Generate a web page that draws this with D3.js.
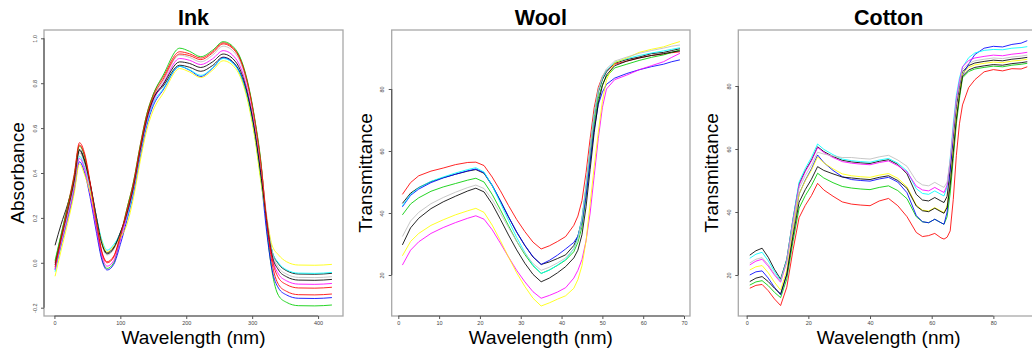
<!DOCTYPE html>
<html><head><meta charset="utf-8">
<script src="https://cdn.jsdelivr.net/npm/d3@7"></script>
<style>body{margin:0;background:#fff;} svg{display:block;}</style>
</head><body>
<svg id="chart" width="1032" height="350"></svg>
<script>
// ---------------- Ink (absorbance) ----------------
const inkWavelength = [1,10,20,30,38,46,55,64,72,80,90,100,110,120,130,140,150,165,190,205,222,240,256,275,292,304,314,322,330,340,352,370,395,421];
const inkBlack1 = [0.078,0.17,0.26,0.37,0.505,0.455,0.343,0.20,0.09,0.045,0.07,0.135,0.22,0.34,0.50,0.64,0.73,0.787,0.88,0.871,0.853,0.879,0.916,0.881,0.751,0.571,0.361,0.193,0.054,-0.005,-0.035,-0.05,-0.051,-0.047];
const inkRed1 = [0.00,0.121,0.252,0.394,0.535,0.485,0.343,0.179,0.045,0.0,0.025,0.122,0.24,0.36,0.52,0.66,0.75,0.828,0.94,0.931,0.912,0.941,0.98,0.945,0.815,0.635,0.425,0.179,0.001,-0.097,-0.127,-0.142,-0.143,-0.139];
const inkGreen = [0.01,0.125,0.25,0.385,0.52,0.47,0.324,0.157,0.02,-0.025,0.0,0.11,0.24,0.36,0.52,0.66,0.75,0.836,0.956,0.942,0.918,0.947,0.985,0.95,0.82,0.64,0.43,0.157,-0.035,-0.146,-0.176,-0.191,-0.192,-0.188];
const inkBlue = [-0.03,0.078,0.195,0.322,0.45,0.40,0.279,0.131,0.013,-0.032,-0.007,0.082,0.19,0.31,0.47,0.61,0.70,0.77,0.875,0.858,0.83,0.867,0.913,0.878,0.748,0.568,0.358,0.138,-0.028,-0.113,-0.143,-0.158,-0.159,-0.155];
const inkCyan = [-0.04,0.076,0.203,0.339,0.475,0.425,0.329,0.20,0.101,0.056,0.081,0.131,0.20,0.32,0.48,0.62,0.71,0.775,0.875,0.86,0.835,0.868,0.91,0.875,0.745,0.565,0.355,0.192,0.056,-0.001,-0.031,-0.046,-0.047,-0.043];
const inkMagenta = [-0.03,0.081,0.203,0.334,0.465,0.415,0.295,0.148,0.03,-0.015,0.01,0.10,0.21,0.33,0.49,0.63,0.72,0.798,0.91,0.902,0.883,0.909,0.945,0.91,0.78,0.60,0.39,0.185,0.028,-0.05,-0.08,-0.095,-0.096,-0.092];
const inkYellow = [-0.06,0.053,0.175,0.308,0.44,0.39,0.305,0.184,0.093,0.048,0.073,0.112,0.17,0.29,0.45,0.59,0.68,0.755,0.865,0.85,0.825,0.858,0.90,0.865,0.735,0.555,0.345,0.205,0.08,0.035,0.005,-0.01,-0.011,-0.007];
const inkGray = [-0.02,0.095,0.22,0.355,0.49,0.44,0.33,0.19,0.08,0.035,0.06,0.13,0.22,0.34,0.50,0.64,0.73,0.81,0.925,0.915,0.895,0.925,0.965,0.93,0.80,0.62,0.41,0.21,0.055,-0.02,-0.05,-0.065,-0.066,-0.062];
const inkBlack2 = [-0.01,0.105,0.23,0.365,0.50,0.45,0.338,0.197,0.085,0.04,0.065,0.133,0.22,0.34,0.50,0.64,0.73,0.795,0.895,0.888,0.87,0.895,0.93,0.895,0.765,0.585,0.375,0.187,0.037,-0.032,-0.062,-0.077,-0.078,-0.074];
const inkRed2 = [-0.02,0.104,0.238,0.381,0.525,0.475,0.339,0.18,0.05,0.005,0.03,0.12,0.23,0.35,0.51,0.65,0.74,0.818,0.93,0.923,0.905,0.935,0.975,0.94,0.81,0.63,0.42,0.192,0.022,-0.067,-0.097,-0.112,-0.113,-0.109];
const inkXTicks = [0,100,200,300,400];
const inkYTicks = [-0.2,0.0,0.2,0.4,0.6,0.8,1.0];

// ---------------- Wool (transmittance) ----------------
const woolWavelength = [1,3,5,8,11,14,17,19,21,23,25,27,29,31,33,35,37,39,41,43,44,45,46,47,48,49,50,51,53,56,59,62,65,67,69];
const woolBlack1 = [43.1,46.4,48.2,50.1,51.4,52.5,53.5,54.0,52.8,48.8,43.9,38.7,33.8,29.5,25.8,23.4,24.2,25.3,26.5,29.5,32.5,38,48,60,71,79,83,85.5,88.3,89.5,90.3,91.4,91.8,92.4,93.0];
const woolRed = [46.0,49.8,52.0,53.5,54.5,55.6,56.3,56.4,55.3,51.6,47.2,42.4,37.9,34.0,30.6,28.4,29.4,30.8,32.4,36.0,39,44,53,64,74,80.5,84,86,88,89,90,90.8,91.3,91.7,92.0];
const woolGreen = [39.4,42.9,44.9,47.0,48.4,49.5,50.6,51.2,50.0,46.0,41.1,35.9,30.9,26.6,23.0,20.5,21.6,23.1,24.8,27.5,30.5,35.5,45,57,68.5,77,81.5,84,86.8,88,89.2,90.2,91,91.8,92.6];
const woolBlue = [42.0,45.7,47.7,49.8,51.3,52.5,53.6,54.2,53.0,49.0,44.0,38.8,33.9,29.6,25.9,23.4,24.7,26.4,28.4,30.5,32.5,37,45.5,56.5,67,75,79,81.5,83.5,85,86.2,87.2,88,88.8,89.4];
const woolCyan = [42.3,46.0,48.1,50.2,51.6,52.9,54.0,54.6,53.2,48.8,43.3,37.6,32.1,27.3,23.2,20.5,21.6,23.2,25.0,28.5,32,38.5,49,61,72,79.5,83.5,86,88.6,89.8,90.8,91.6,92.3,92.8,93.3];
const woolMagenta = [23.2,28.0,30.7,33.4,35.3,36.9,38.3,39.1,38.0,34.6,30.3,25.8,21.5,17.8,14.6,12.5,13.4,14.5,15.9,19.0,21.5,25,31,40,52,64,74,80,83,84.5,86.2,87.5,88.8,90.2,91.5];
const woolYellow = [26.2,30.8,33.4,36.0,37.8,39.4,40.7,41.5,40.2,36.1,31.1,25.8,20.7,16.3,12.5,10.0,11.0,12.2,13.3,15.7,18.5,23,31,43,55,66,76,83,88.5,90,91.8,92.8,93.6,94.5,95.3];
const woolGray = [32.4,37.4,40.2,43.0,45.0,46.7,48.2,49.0,47.9,44.3,39.9,35.3,30.9,27.0,23.7,21.5,22.5,23.9,25.5,28.5,31.5,38,48.5,60.5,71.5,79.5,84,86.5,89,90.3,91.5,92.4,93.2,93.8,94.2];
const woolBlack2 = [29.7,35.2,38.3,41.4,43.6,45.4,47.1,48.0,46.8,42.9,38.0,32.9,28.1,23.8,20.2,17.8,19.0,20.7,22.7,25.5,28,33,42,54,66,75.5,81,84.5,87.5,89,90,90.8,91.4,91.9,92.3];
const woolXTicks = [0,10,20,30,40,50,60,70];
const woolYTicks = [20,40,60,80];

// ---------------- Cotton (transmittance) ----------------
const cottonWavelength = [1,3,5,7,9,11,13,15,17,19,21,23,25,28,31,34,37,40,43,46,49,52,55,57,59,61,63,64,65,66,67,68,69,70,72,74,77,80,83,86,89,91];
const cottonBlack1 = [26.3,27.7,28.5,25.6,21.8,18.7,25.0,37.6,48.9,53.1,56.5,60.7,59.2,57.6,56.4,55.9,55.6,55.4,56.1,56.6,55.1,52.1,45.6,43.8,43.5,44.6,43.5,43.0,45,53.5,64,73.5,79.5,84.5,86.5,87.3,87.8,88.2,88.0,88.5,88.8,89.1];
const cottonRed = [15.8,16.7,17.0,15.0,12.4,10.3,16.1,27.8,38.2,42.1,45.2,49.1,47.0,45.0,43.2,42.5,42.2,42.0,43.5,44.3,42.0,38.5,33.5,32.2,32.5,33.2,31.8,31.4,32,34,44,58,68,74,79.5,82,84.5,85.2,84.8,85.5,85.4,86.1];
const cottonGreen = [16.8,17.8,18.2,16.6,14.5,12.8,18.7,30.6,41.2,45.2,48.4,52.3,50.8,49.3,48.1,47.6,47.3,47.1,47.8,48.3,46.8,44.2,38.5,36.9,36.6,37.7,36.6,36.1,38.5,46,57,68,76,82.6,84.6,85.4,85.9,86.3,86.1,86.6,86.9,87.2];
const cottonBlue = [20.0,21.0,21.3,19.0,16.1,13.7,20.4,33.7,45.7,50.1,53.7,58.1,55.7,53.2,51.2,50.3,50.0,49.8,50.5,51.0,49.5,46.1,38.9,36.9,36.6,37.7,36.6,36.1,40,52,65,75,80.5,83.5,87,90,92,92.6,92.4,93.2,93.6,94.4];
const cottonCyan = [25.3,26.6,27.2,24.5,21.1,18.3,24.8,37.8,49.5,53.8,57.3,61.6,59.9,58.2,56.8,56.3,56.0,55.8,56.5,57.0,55.5,53.0,47.4,45.9,45.6,46.7,45.6,45.1,48,57,68,77,82.5,86,89,90.5,91.3,91.6,91.5,92.0,92.2,92.5];
const cottonMagenta = [23.2,24.4,25.0,22.8,20.0,17.7,24.1,37.0,48.5,52.8,56.2,60.5,58.9,57.3,56.0,55.5,55.2,55.0,55.7,56.2,54.7,52.7,48.2,47.0,46.7,47.8,46.7,46.2,48.5,56,66.5,76,81.5,86.1,88.1,88.9,89.4,89.8,89.6,90.1,90.4,90.7];
const cottonYellow = [21.6,22.6,23.0,20.7,17.7,15.2,21.5,34.2,45.7,49.9,53.3,57.5,55.6,53.7,52.1,51.5,51.2,51.0,51.7,52.2,50.7,48.0,42.2,40.6,40.3,41.4,40.3,39.8,42,49.5,60,70.5,77.5,83.9,85.9,86.7,87.2,87.6,87.4,87.9,88.2,88.5];
const cottonGray = [23.8,25.0,25.5,23.3,20.4,18.0,24.2,36.5,47.5,51.6,54.9,59.0,58.4,57.8,57.3,57.3,57.0,56.8,57.5,58.0,56.5,54.5,49.9,48.6,48.3,49.4,48.3,47.8,49.5,56.5,66,75,80.5,85.2,87.2,88.0,88.5,88.9,88.7,89.2,89.5,89.8];
const cottonBlack2 = [17.9,19.0,19.5,17.9,15.8,14.0,20.1,32.2,43.1,47.1,50.4,54.4,53.2,52.1,51.1,50.8,50.5,50.3,51.0,51.5,50.0,47.5,41.9,40.4,40.1,41.2,40.1,39.6,41.5,48.5,59,69.5,77,83.1,85.1,85.9,86.4,86.8,86.6,87.1,87.4,87.7];
const cottonXTicks = [0,20,40,60,80];
const cottonYTicks = [20,40,60,80];

const rColors = ["black","red","#00CD00","blue","cyan","magenta","yellow","#BEBEBE","black","red"];

// ---------------- drawing ----------------
const svg = d3.select("#chart");
const FONT = "'Liberation Sans', Arial, Helvetica, sans-serif";
const TOP = 30, BOTTOM = 316;

const panels = [
  {title:"Ink", ylab:"Absorbance", xs:inkWavelength,
   series:[inkBlack1,inkRed1,inkGreen,inkBlue,inkCyan,inkMagenta,inkYellow,inkGray,inkBlack2,inkRed2],
   left:44, right:343, xdom:[-15.8,437.8], ydom:[-0.237,1.037],
   xticks:inkXTicks, yticks:inkYTicks, yfmt:d=>d.toFixed(1), curve:d3.curveMonotoneX},
  {title:"Wool", ylab:"Transmittance", xs:woolWavelength,
   series:[woolBlack1,woolRed,woolGreen,woolBlue,woolCyan,woolMagenta,woolYellow,woolGray,woolBlack2],
   left:391.7, right:690, xdom:[-1.62,71.47], ydom:[6.77,99.03],
   xticks:woolXTicks, yticks:woolYTicks, yfmt:d=>String(d), curve:d3.curveLinear},
  {title:"Cotton", ylab:"Transmittance", xs:cottonWavelength,
   series:[cottonBlack1,cottonRed,cottonGreen,cottonBlue,cottonCyan,cottonMagenta,cottonYellow,cottonGray,cottonBlack2],
   left:738.3, right:1039, xdom:[-2.72,94.8], ydom:[6.98,97.78],
   xticks:cottonXTicks, yticks:cottonYTicks, yfmt:d=>String(d), curve:d3.curveLinear}
];

panels.forEach(p => {
  const x = d3.scaleLinear().domain(p.xdom).range([p.left, p.right]);
  const y = d3.scaleLinear().domain(p.ydom).range([BOTTOM, TOP]);
  const g = svg.append("g");

  // box
  g.append("rect").attr("x", p.left).attr("y", TOP)
    .attr("width", p.right - p.left).attr("height", BOTTOM - TOP)
    .attr("fill", "none").attr("stroke", "#a8a8a8").attr("stroke-width", 1.3);

  // lines
  const line = d3.line().x((d,i) => x(p.xs[i])).y(d => y(d)).curve(p.curve);
  p.series.forEach((s, i) => {
    g.append("path").datum(s).attr("d", line)
      .attr("fill", "none").attr("stroke", rColors[i]).attr("stroke-width", 1)
      .attr("stroke-opacity", 0.85);
  });

  // y axis
  const ya = g.append("g").attr("transform", `translate(${p.left},0)`)
    .call(d3.axisLeft(y).tickValues(p.yticks).tickSize(3).tickFormat(p.yfmt));
  ya.select(".domain").remove();
  ya.selectAll(".tick line").attr("stroke", "#555");
  ya.selectAll(".tick text").attr("x", 0).attr("y", -7.5).attr("dy", 0)
    .attr("transform", "rotate(-90)").attr("text-anchor", "middle")
    .attr("font-family", FONT).attr("font-size", 5.5).attr("fill", "#444");
  g.append("line").attr("x1", p.left).attr("x2", p.left)
    .attr("y1", y(p.yticks[0])).attr("y2", y(p.yticks[p.yticks.length-1]))
    .attr("stroke", "#555").attr("stroke-width", 1.2);

  // x axis
  const xa = g.append("g").attr("transform", `translate(0,${BOTTOM})`)
    .call(d3.axisBottom(x).tickValues(p.xticks).tickSize(3).tickFormat(d => String(d)));
  xa.select(".domain").remove();
  xa.selectAll(".tick line").attr("stroke", "#555");
  xa.selectAll(".tick text").attr("y", 8.5).attr("dy", 0)
    .attr("font-family", FONT).attr("font-size", 5.5).attr("fill", "#444");
  g.append("line").attr("y1", BOTTOM).attr("y2", BOTTOM)
    .attr("x1", x(p.xticks[0])).attr("x2", x(p.xticks[p.xticks.length-1]))
    .attr("stroke", "#555").attr("stroke-width", 1.2);

  const cx = (p.left + p.right) / 2;
  // title
  g.append("text").attr("x", cx).attr("y", 25).attr("text-anchor", "middle")
    .attr("font-family", FONT).attr("font-weight", "bold").attr("font-size", 21.5)
    .attr("fill", "#000").text(p.title);
  // x label
  g.append("text").attr("x", cx).attr("y", 343.5).attr("text-anchor", "middle")
    .attr("font-family", FONT).attr("font-size", 19).attr("fill", "#000")
    .text("Wavelength (nm)");
  // y label
  g.append("text").attr("transform", `translate(${p.left - 20},${(TOP + BOTTOM) / 2}) rotate(-90)`)
    .attr("text-anchor", "middle").attr("font-family", FONT).attr("font-size", 19)
    .attr("fill", "#000").text(p.ylab);
});
</script>
</body></html>
